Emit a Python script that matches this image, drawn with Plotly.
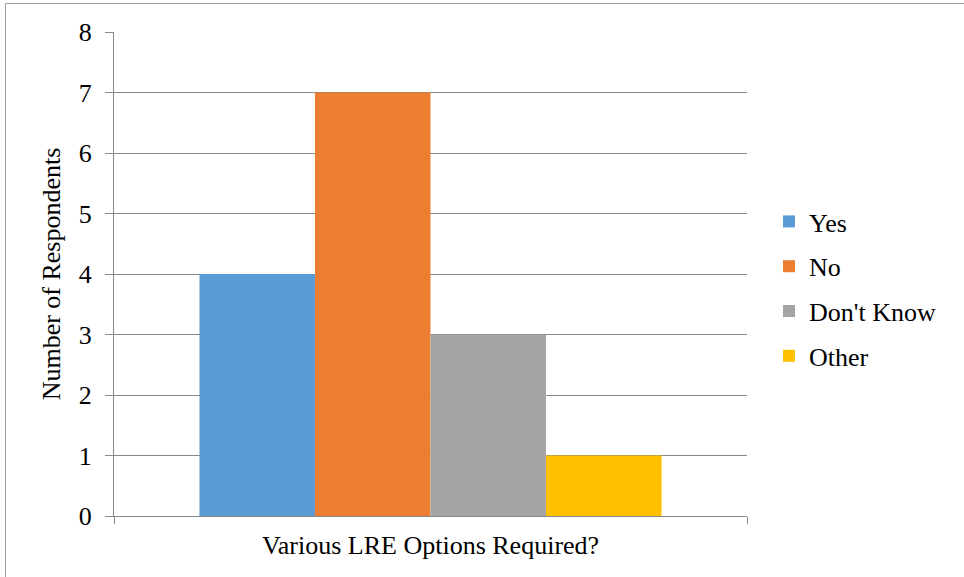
import plotly.graph_objects as go

# Survey results: one question, four answer groups
category = ["Various LRE Options Required?"]
series_names = ["Yes", "No", "Don't Know", "Other"]
series_values = [4, 7, 3, 1]
series_colors = ["#5B9BD5", "#ED7D31", "#A5A5A5", "#FFC000"]

y_ticks = list(range(0, 9))

FONT = "Liberation Serif"
GRID = "#898989"

fig = go.Figure()
for name, val, col in zip(series_names, series_values, series_colors):
    fig.add_trace(go.Bar(
        x=category, y=[val], name=name, legendgroup=name,
        marker=dict(color=col, line=dict(width=0)),
    ))

W, H = 964, 577
ML, MR, MT, MB = 114, 217, 32, 61
pw, ph = W - ML - MR, H - MT - MB


def px_x(px):
    return (px - ML) / pw


def px_y(py):
    return (H - MB - py) / ph


fig.update_layout(
    width=W, height=H,
    margin=dict(l=ML, r=MR, t=MT, b=MB, pad=0),
    paper_bgcolor="white", plot_bgcolor="white",
    font=dict(family=FONT, size=26, color="black"),
    barmode="group", bargap=0.27, bargroupgap=0,
    showlegend=True,
    legend=dict(
        x=px_x(769), y=px_y(198), xanchor="left", yanchor="top",
        font=dict(family=FONT, size=26, color="black"),
        tracegroupgap=8, itemwidth=30, bgcolor="rgba(0,0,0,0)",
    ),
    xaxis=dict(
        type="category", range=[-0.5, 0.5],
        showline=True, linecolor=GRID, linewidth=1,
        ticks="outside", tickson="boundaries", ticklen=7, tickcolor=GRID,
        showgrid=False, zeroline=False,
        tickfont=dict(family=FONT, size=26, color="black"),
        ticklabelstandoff=6,
    ),
    yaxis=dict(
        title=dict(text="Number of Respondents", standoff=10,
                   font=dict(family=FONT, size=26, color="black")),
        range=[0, 8], tickvals=y_ticks, ticktext=[str(t) for t in y_ticks],
        showline=True, linecolor=GRID, linewidth=1,
        ticks="outside", ticklen=8, tickcolor=GRID,
        showgrid=True, gridcolor=GRID, gridwidth=1, zeroline=False,
        tickfont=dict(family=FONT, size=26, color="black"),
        ticklabelstandoff=8,
    ),
    shapes=[dict(
        type="rect", xref="paper", yref="paper",
        x0=px_x(5.5), x1=px_x(975), y0=px_y(590), y1=px_y(3.5),
        line=dict(color="#A0A0A0", width=1), layer="below",
    )],
)

fig.write_html("out.html")
